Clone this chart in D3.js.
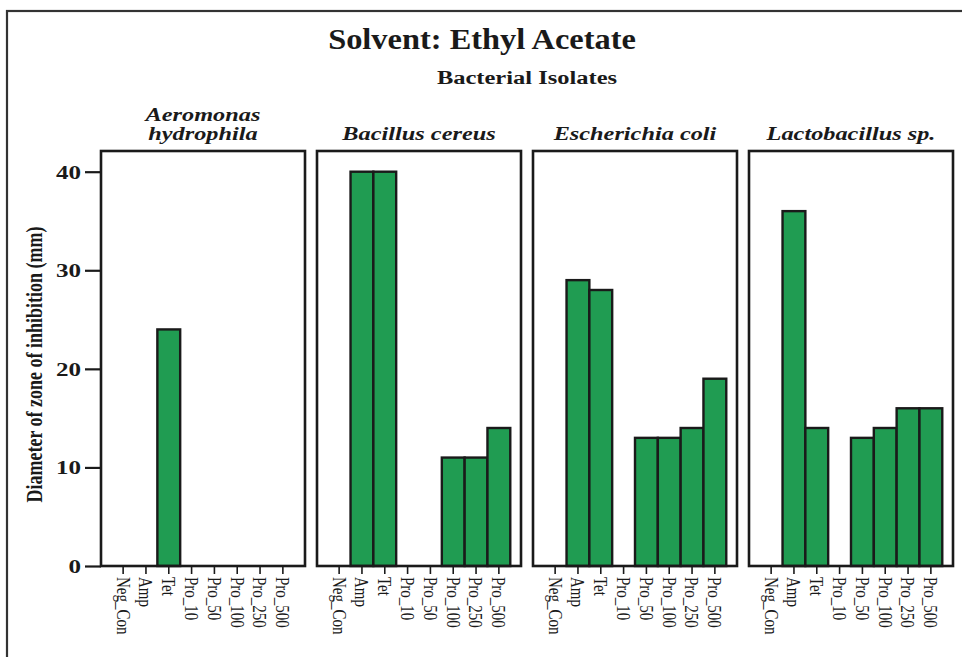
<!DOCTYPE html>
<html>
<head>
<meta charset="utf-8">
<script src="https://cdn.jsdelivr.net/npm/d3@7"></script>
<style>
  html, body { margin: 0; padding: 0; background: #fff; }
  svg { display: block; }
  text { font-family: "Liberation Serif", "Times New Roman", serif; fill: #1a1a1a; }
</style>
</head>
<body>
<svg id="chart" width="962" height="657"></svg>
<script>
// Treatments on each panel's x axis
const treatments = ["Neg_Con", "Amp", "Tet", "Pro_10", "Pro_50", "Pro_100", "Pro_250", "Pro_500"];

// Bacterial isolates (one panel each); titles may wrap onto two lines
const isolates = ["Aeromonas hydrophila", "Bacillus cereus", "Escherichia coli", "Lactobacillus sp."];
const isolateTitleLines = [["Aeromonas", "hydrophila"], ["Bacillus cereus"], ["Escherichia coli"], ["Lactobacillus sp."]];

// Zone of inhibition diameters (mm), in treatment order
const aeromonasValues     = [0, 0, 24, 0, 0, 0, 0, 0];
const bacillusValues      = [0, 40, 40, 0, 0, 11, 11, 14];
const escherichiaValues   = [0, 29, 28, 0, 13, 13, 14, 19];
const lactobacillusValues = [0, 36, 14, 0, 13, 14, 16, 16];

const yTicks = [0, 10, 20, 30, 40];

const seriesValues = [aeromonasValues, bacillusValues, escherichiaValues, lactobacillusValues];

const svg = d3.select("#chart");
const W = 962, H = 657;
const WIDE = 1.28; // horizontal stretch of the lettering

// Text helper: places a label at (x, y) with a horizontal stretch
function wideText(parent, x, y, str, opts) {
  const t = parent.append("text")
    .attr("transform", `translate(${x},${y}) scale(${opts.k || WIDE},1)`)
    .attr("text-anchor", opts.anchor || "middle")
    .attr("font-size", opts.size)
    .attr("font-weight", opts.weight || "bold")
    .text(str);
  if (opts.italic) t.attr("font-style", "italic");
  return t;
}

// Outer frame (continues past the right and bottom edges)
svg.append("rect")
  .attr("x", 7).attr("y", 11)
  .attr("width", W + 20).attr("height", H + 20)
  .attr("fill", "none").attr("stroke", "#333").attr("stroke-width", 2.2);

// Titles
wideText(svg, 482, 49, "Solvent: Ethyl Acetate", { size: 30, k: 1.08 });
wideText(svg, 527, 84, "Bacterial Isolates", { size: 19, k: 1.29 });

// Panel geometry
const panelLeft = 101, panelWidth = 204, panelGap = 12;
const plotTop = 151, plotBottom = 566;

const y = d3.scaleLinear().domain([0, 42.1]).range([plotBottom, plotTop]);

const panelX = d3.scaleBand()
  .domain(isolates)
  .range([panelLeft, panelLeft + 4 * panelWidth + 3 * panelGap])
  .paddingInner(panelGap / (panelWidth + panelGap))
  .paddingOuter(0);

// Y axis
const yAxis = d3.axisLeft(y).tickValues(yTicks).tickSize(16).tickPadding(2).tickFormat(d3.format("d"));
const yg = svg.append("g").attr("transform", `translate(${panelLeft},0)`).call(yAxis);
yg.select(".domain").remove();
yg.selectAll(".tick line").attr("stroke", "#1a1a1a").attr("stroke-width", 2.2);
yg.selectAll(".tick text")
  .attr("font-family", "Liberation Serif, serif")
  .attr("font-size", 19).attr("font-weight", "bold").attr("fill", "#1a1a1a")
  .attr("x", 0).attr("dy", "0.34em")
  .attr("transform", `translate(-20,0) scale(1.32,1)`);

svg.append("text")
  .attr("transform", `translate(42,${(plotTop + plotBottom) / 2 + 6}) scale(1.25,1) rotate(-90)`)
  .attr("text-anchor", "middle")
  .attr("font-size", 18).attr("font-weight", "bold")
  .text("Diameter of zone of inhibition (mm)");

// Panels
isolates.forEach((iso, i) => {
  const x0 = panelX(iso);
  const w = panelX.bandwidth();
  const g = svg.append("g");

  const x = d3.scaleBand().domain(treatments).range([x0, x0 + w])
    .paddingInner(0).paddingOuter(0.47);

  // Panel title
  const lines = isolateTitleLines[i];
  lines.forEach((ln, j) => {
    wideText(g, x0 + w / 2, 140 - (lines.length - 1 - j) * 19, ln, { size: 19, italic: true });
  });

  // Bars
  g.selectAll("rect.bar")
    .data(treatments.map((t, k) => ({ t, v: seriesValues[i][k] })).filter(d => d.v > 0))
    .join("rect")
    .attr("class", "bar")
    .attr("x", d => x(d.t))
    .attr("y", d => y(d.v))
    .attr("width", x.bandwidth())
    .attr("height", d => y(0) - y(d.v))
    .attr("fill", "#209c52")
    .attr("stroke", "#1a1a1a")
    .attr("stroke-width", 2.4);

  // Panel frame
  g.append("rect")
    .attr("x", x0).attr("y", plotTop)
    .attr("width", w).attr("height", plotBottom - plotTop)
    .attr("fill", "none").attr("stroke", "#1a1a1a").attr("stroke-width", 2.6);

  // X axis with rotated treatment labels
  const xAxis = d3.axisBottom(x).tickSize(8).tickPadding(3);
  const xg = g.append("g").attr("transform", `translate(0,${plotBottom})`).call(xAxis);
  xg.select(".domain").remove();
  xg.selectAll(".tick line").attr("stroke", "#1a1a1a").attr("stroke-width", 1.6);
  xg.selectAll(".tick text")
    .attr("font-family", "Liberation Serif, serif")
    .attr("font-size", 15).attr("fill", "#1a1a1a")
    .attr("transform", "translate(0,11) scale(1.25,1) rotate(90)")
    .attr("text-anchor", "start")
    .attr("x", 0).attr("y", 0).attr("dy", "0.35em");
});
</script>
</body>
</html>
